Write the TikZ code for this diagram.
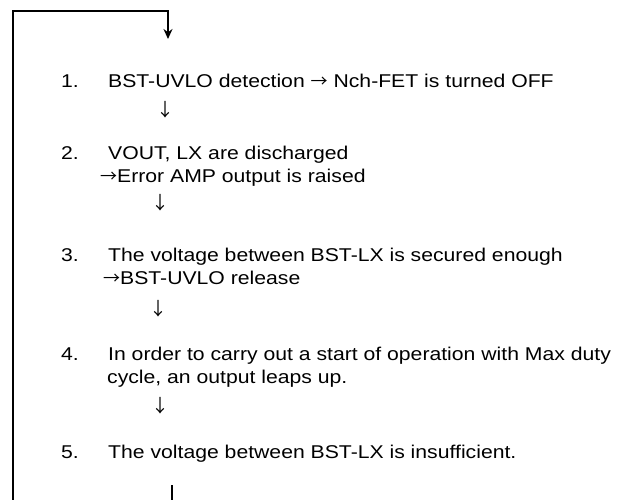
\documentclass[tikz,border=0pt]{standalone}
\usepackage{fontspec}
\setmainfont[FakeStretch=1.145]{Liberation Sans}
\newfontfamily\arrowfont{Noto Sans CJK JP}
\usetikzlibrary{positioning,arrows.meta}

\begin{document}
\begin{tikzpicture}[
    x=1pt, y=-1pt,
    txt/.style={anchor=base west, inner sep=0pt, font=\fontsize{18.5}{22}\selectfont},
    num/.style={txt},
    dn/.style={anchor=center, inner sep=0pt, font=\arrowfont\fontsize{18}{22}\selectfont},
    feedback/.style={line width=1.5pt},
    fbarrow/.style={-{Stealth[length=10pt, width=9pt]}, line width=1.5pt}
]
\useasboundingbox (0,0) rectangle (627,500);

% steps
\node[num] (n1) at (61,88) {1.};
\node[txt] (s1) at (108,88) {BST-UVLO detection {\arrowfont\fontsize{17}{20}\selectfont →} Nch-FET is turned OFF};
\node[dn] (d1) at (165,110) {↓};

\node[num] (n2) at (61,160) {2.};
\node[txt] (s2a) at (108,160) {VOUT, LX are discharged};
\node[txt] (s2b) at (100,183) {{\arrowfont\fontsize{17}{20}\selectfont →}Error AMP output is raised};
\node[dn] (d2) at (160,203) {↓};

\node[num] (n3) at (61,261) {3.};
\node[txt] (s3a) at (108,261) {The voltage between BST-LX is secured enough};
\node[txt] (s3b) at (103,284) {{\arrowfont\fontsize{17}{20}\selectfont →}BST-UVLO release};
\node[dn] (d3) at (158,309) {↓};

\node[num] (n4) at (61,360) {4.};
\node[txt] (s4a) at (108,360) {In order to carry out a start of operation with Max duty};
\node[txt] (s4b) at (107,383) {cycle, an output leaps up.};
\node[dn] (d4) at (160,406) {↓};

\node[num] (n5) at (61,458) {5.};
\node[txt] (s5) at (108,458) {The voltage between BST-LX is insufficient.};

% feedback loop back to step 1
\coordinate (fbin) at (13,500);
\coordinate (fbtop) at (168,39);
\coordinate (fbout) at (172,485);
\coordinate (fbend) at (172,500);
\draw[fbarrow] (fbin) |- (168,11) -- (fbtop);
\draw[feedback] (fbout) -- (fbend);

\end{tikzpicture}
\end{document}
